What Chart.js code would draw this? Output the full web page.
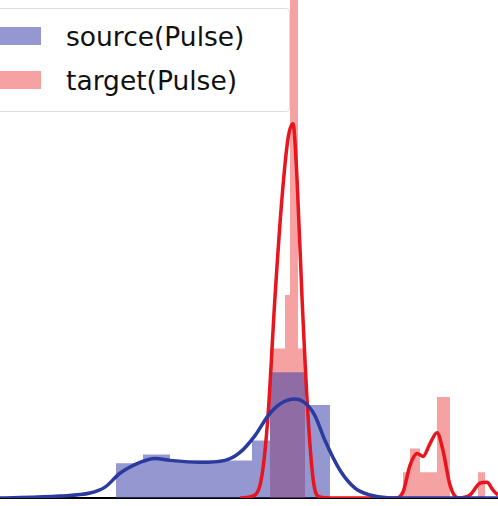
<!DOCTYPE html>
<html><head><meta charset="utf-8">
<script src="https://cdn.jsdelivr.net/npm/chart.js@4"></script>
<style>
html,body{margin:0;padding:0;background:#fff;overflow:hidden}
#wrap{position:relative;width:498px;height:506px}
#legend{position:absolute;left:-10px;top:8px;width:300px;height:104px;background:#fff;border:1px solid #ddd;border-radius:4px;font-family:"DejaVu Sans",sans-serif;font-size:26.5px;color:#111;box-sizing:border-box}
.row{position:absolute;left:0;height:30px;display:flex;align-items:center}
.sw{width:50px;height:18px;margin-right:25px}
</style></head><body>
<div id="wrap"><canvas id="c" width="498" height="506"></canvas>
<div id="legend">
<div class="row" style="top:12px"><div class="sw" style="background:rgba(60,65,170,0.55)"></div>source(Pulse)</div>
<div class="row" style="top:56px"><div class="sw" style="background:rgba(240,70,70,0.5)"></div>target(Pulse)</div>
</div></div>
<script>
// histogram bin edges (x) and heights
const srcEdges = [0,116,143,170,252,270,305,330];
const srcHeights = [0,35,44,38,58,127,94,0];
const tgtEdges = [0,270,285,290,298,305,403,410,420,437,450,478,485];
const tgtHeights = [0,151,205,520,151,0,26,50,26,102,0,26,0];
// KDE curves
const srcKdeX = [0,60,90,105,120,140,155,170,200,225,240,255,268,280,295,305,315,325,340,355,370,390,498];
const srcKdeY = [0,2,5,11,25,36,40,38,36,38,46,63,83,95,100,96,83,58,28,10,3,0,0];
const tgtKdeX = [240,255,262,268,275,282,288,293,297,302,308,314,320,330,395,403,410,417,423,430,437,443,450,458,470,480,487,493,498];
const tgtKdeY = [0,3,23,83,203,303,363,378,323,203,83,13,1,0,0,6,33,45,42,55,66,48,13,0,3,15,16,8,3];
const pts=(xs,ys)=>xs.map((x,i)=>({x,y:ys[i]}));
new Chart(document.getElementById('c'),{
 type:'line',
 data:{datasets:[
  {data:pts(srcKdeX,srcKdeY),borderColor:'#2b3a9e',borderWidth:3.5,pointRadius:0,fill:false,cubicInterpolationMode:'monotone'},
  {data:pts(tgtKdeX,tgtKdeY),borderColor:'#e8141e',borderWidth:3.5,pointRadius:0,fill:false,cubicInterpolationMode:'monotone'},
  {data:pts(srcEdges,srcHeights),stepped:'before',borderWidth:0,pointRadius:0,fill:'origin',backgroundColor:'rgba(60,65,170,0.55)'},
  {data:pts(tgtEdges,tgtHeights),stepped:'before',borderWidth:0,pointRadius:0,fill:'origin',backgroundColor:'rgba(240,70,70,0.5)'}
 ]},
 options:{responsive:false,animation:false,clip:true,
  layout:{padding:0},
  plugins:{legend:{display:false},tooltip:{enabled:false}},
  scales:{
   x:{type:'linear',min:0,max:498,grid:{display:false},ticks:{display:false},border:{display:true,color:'#000',width:2}},
   y:{min:0,max:503,display:false}
  }}
});
</script></body></html>
